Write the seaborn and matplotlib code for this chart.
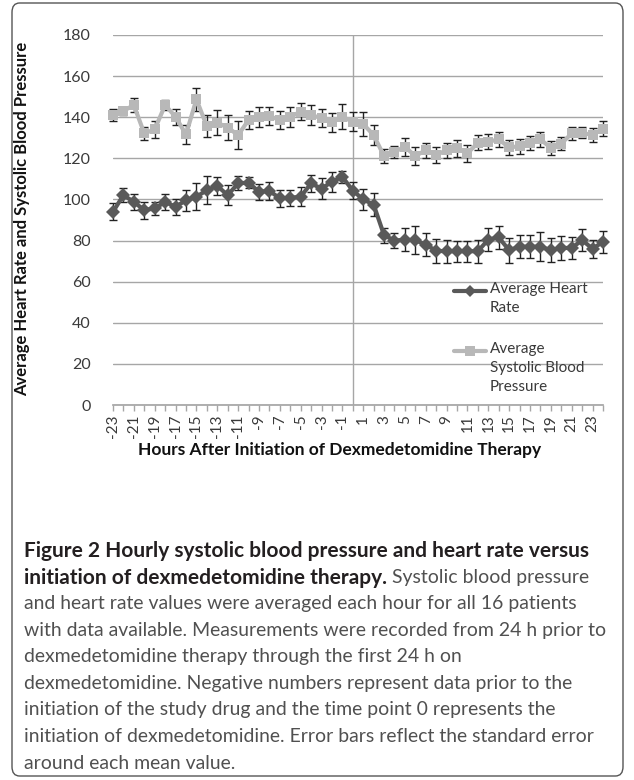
import pandas as pd
import matplotlib
matplotlib.use('Agg')
import matplotlib.pyplot as plt
from matplotlib.patches import FancyBboxPatch
from matplotlib.ticker import MultipleLocator
import seaborn as sns

# hourly means and standard errors, -23 h .. +24 h
hours = list(range(-23, 25))
heart_rate = [94.0, 102.1, 98.8, 94.8, 95.6, 98.8, 96.4, 99.6, 101.3, 104.5,
              106.6, 102.1, 107.8, 108.2, 103.7, 104.2, 100.5, 100.8, 101.3, 107.8,
              105.3, 108.6, 111.0, 104.3, 100.0, 97.5, 82.6, 80.0, 80.4, 80.2,
              78.0, 75.0, 74.8, 74.8, 74.8, 74.8, 80.5, 81.5, 75.3, 77.0,
              77.0, 77.0, 75.3, 76.4, 76.4, 80.2, 76.0, 79.4]
hr_err = [4.2, 3.5, 4.0, 4.2, 3.4, 3.7, 3.8, 5.0, 6.6, 6.7,
          4.5, 4.9, 3.4, 2.8, 3.9, 4.5, 4.0, 4.0, 4.7, 4.0,
          5.0, 4.8, 2.8, 4.3, 4.9, 5.5, 3.7, 3.7, 5.5, 6.7,
          5.7, 5.8, 5.5, 5.0, 5.0, 5.5, 5.5, 5.5, 6.0, 5.5,
          5.5, 7.0, 5.8, 5.8, 5.2, 5.2, 4.3, 5.4]
sbp = [141.0, 143.1, 145.9, 132.1, 134.1, 145.9, 140.2, 131.6, 148.7, 135.7,
       137.3, 135.0, 131.3, 138.6, 140.2, 140.6, 138.6, 140.2, 142.7, 141.0,
       139.6, 137.5, 140.2, 137.8, 136.7, 131.3, 121.1, 123.2, 125.6, 121.1,
       124.0, 121.6, 124.0, 124.8, 122.4, 127.6, 128.1, 129.2, 125.3, 125.9,
       127.6, 129.2, 125.1, 127.2, 132.1, 132.4, 131.3, 134.5]
sbp_err = [3.0, 2.0, 3.5, 3.0, 4.0, 2.5, 4.0, 4.5, 5.5, 5.5,
           6.0, 6.0, 7.0, 4.5, 5.0, 4.5, 4.5, 5.0, 4.0, 5.0,
           4.5, 4.7, 6.0, 4.5, 6.0, 5.0, 3.3, 3.0, 4.3, 4.3,
           3.6, 3.8, 3.6, 4.2, 4.0, 3.6, 3.5, 3.8, 3.7, 3.6,
           3.4, 3.6, 3.5, 3.0, 3.0, 2.7, 3.5, 3.5]
tick_hours = list(range(-23, 24, 2))
tick_labels = [str(h) for h in tick_hours]
series_names = ['Average Heart Rate', 'Average Systolic Blood Pressure']
legend_labels = ['Average Heart\nRate', 'Average\nSystolic Blood\nPressure']

caption_bold_1 = 'Figure 2 Hourly systolic blood pressure and heart rate versus'
caption_bold_2 = 'initiation of dexmedetomidine therapy.'
caption_rest_2 = ' Systolic blood pressure'
caption_lines = [
    'and heart rate values were averaged each hour for all 16 patients',
    'with data available. Measurements were recorded from 24 h prior to',
    'dexmedetomidine therapy through the first 24 h on',
    'dexmedetomidine. Negative numbers represent data prior to the',
    'initiation of the study drug and the time point 0 represents the',
    'initiation of dexmedetomidine. Error bars reflect the standard error',
    'around each mean value.',
]

hr_color = '#595959'
sbp_color = '#b8b8b8'
grid_color = '#a6a6a6'
text_color = '#3a3a3a'
caption_color = '#505050'

sns.set_theme(style='white')
plt.rcParams['font.family'] = ['Lato', 'DejaVu Sans']

W, H = 634, 780
fig = plt.figure(figsize=(W / 100, H / 100), dpi=100)
ax = fig.add_axes([113 / W, 1 - 405 / H, 490 / W, 370 / H])

df = pd.DataFrame({
    'Hour': hours * 2,
    'Value': heart_rate + sbp,
    'Series': [series_names[0]] * len(hours) + [series_names[1]] * len(hours),
})

ax.errorbar(hours, heart_rate, yerr=hr_err, fmt='none', ecolor='#222222',
            elinewidth=1, capsize=2.6, capthick=1, zorder=2)
ax.errorbar(hours, sbp, yerr=sbp_err, fmt='none', ecolor='#222222',
            elinewidth=1, capsize=2.6, capthick=1, zorder=2)
sns.lineplot(data=df, x='Hour', y='Value', hue='Series', style='Series',
             palette=[hr_color, sbp_color], markers=['D', 's'], dashes=False,
             linewidth=3, markersize=7.5, markeredgewidth=0, legend=False,
             ax=ax, zorder=3)
# keep the end markers and caps whole at the plot edges
for artist in ax.lines + ax.collections:
    artist.set_clip_on(False)

ax.axvline(0, color=grid_color, lw=1, zorder=1)
ax.set_xlim(-23, 24)
ax.set_ylim(0, 180)
ax.set_yticks(range(0, 181, 20))
ax.yaxis.grid(True, color=grid_color, lw=1)
ax.set_axisbelow(True)
for s in ['left', 'top', 'right']:
    ax.spines[s].set_visible(False)
ax.spines['bottom'].set_color(grid_color)

ax.set_xticks(tick_hours)
ax.set_xticklabels(tick_labels, rotation=90)
ax.xaxis.set_minor_locator(MultipleLocator(1))
ax.tick_params(axis='x', which='both', bottom=True, length=4, width=1,
               color=grid_color, direction='out', pad=3, labelsize=11,
               labelcolor=text_color)
ax.tick_params(axis='y', left=False, pad=10, labelsize=11.5, labelcolor=text_color)

ax.set_xlabel('')
ax.set_ylabel('')
fig.text(340 / W, 1 - 450 / H, 'Hours After Initiation of Dexmedetomidine Therapy',
         ha='center', va='center', fontsize=12.5, fontweight='bold', color='#111111')
fig.text(22 / W, 1 - 219 / H, 'Average Heart Rate and Systolic Blood Pressure',
         ha='center', va='center', rotation=90, fontsize=12, fontweight='bold',
         color='#111111')

# legend drawn Excel-style, handle next to the first line of each label
for color, marker, label, ty in [(hr_color, 'D', legend_labels[0], 0.332),
                                 (sbp_color, 's', legend_labels[1], 0.170)]:
    ly = ty - 0.025
    ax.plot([0.696, 0.729, 0.762], [ly, ly, ly], transform=ax.transAxes, color=color,
            lw=3, marker=marker, markevery=[1], markersize=6.5, markeredgewidth=0,
            clip_on=False, zorder=4)
    ax.text(0.769, ty, label, transform=ax.transAxes, ha='left', va='top',
            fontsize=11, color=text_color, linespacing=1.45)

# frame around the figure panel
fig.patches.append(FancyBboxPatch((12 / W, 4 / H), 611 / W, 773 / H,
                                  boxstyle='round,pad=0,rounding_size=0.012',
                                  transform=fig.transFigure, fill=False,
                                  ec='#555555', lw=1))

# caption, sized to the reference line widths
renderer = fig.canvas.get_renderer()
probe = fig.text(0, 0, caption_lines[1], fontsize=14)
reg_size = 14 * 585 / probe.get_window_extent(renderer).width
probe.remove()
probe = fig.text(0, 0, caption_bold_1, fontsize=14, fontweight='bold')
bold_size = 14 * 566 / probe.get_window_extent(renderer).width
probe.remove()

x0 = 24 / W
line_y = [549, 576, 602, 629, 655, 682, 708, 735, 762]
fig.text(x0, 1 - line_y[0] / H, caption_bold_1, fontsize=bold_size,
         fontweight='bold', color='#231f20', va='center_baseline')
t = fig.text(x0, 1 - line_y[1] / H, caption_bold_2, fontsize=bold_size,
             fontweight='bold', color='#231f20', va='center_baseline')
w = t.get_window_extent(renderer).width
fig.text(x0 + w / W, 1 - line_y[1] / H, caption_rest_2, fontsize=reg_size,
         color=caption_color, va='center_baseline')
for line, y in zip(caption_lines, line_y[2:]):
    fig.text(x0, 1 - y / H, line, fontsize=reg_size, color=caption_color,
             va='center_baseline')

fig.savefig('out.png', dpi=100)
